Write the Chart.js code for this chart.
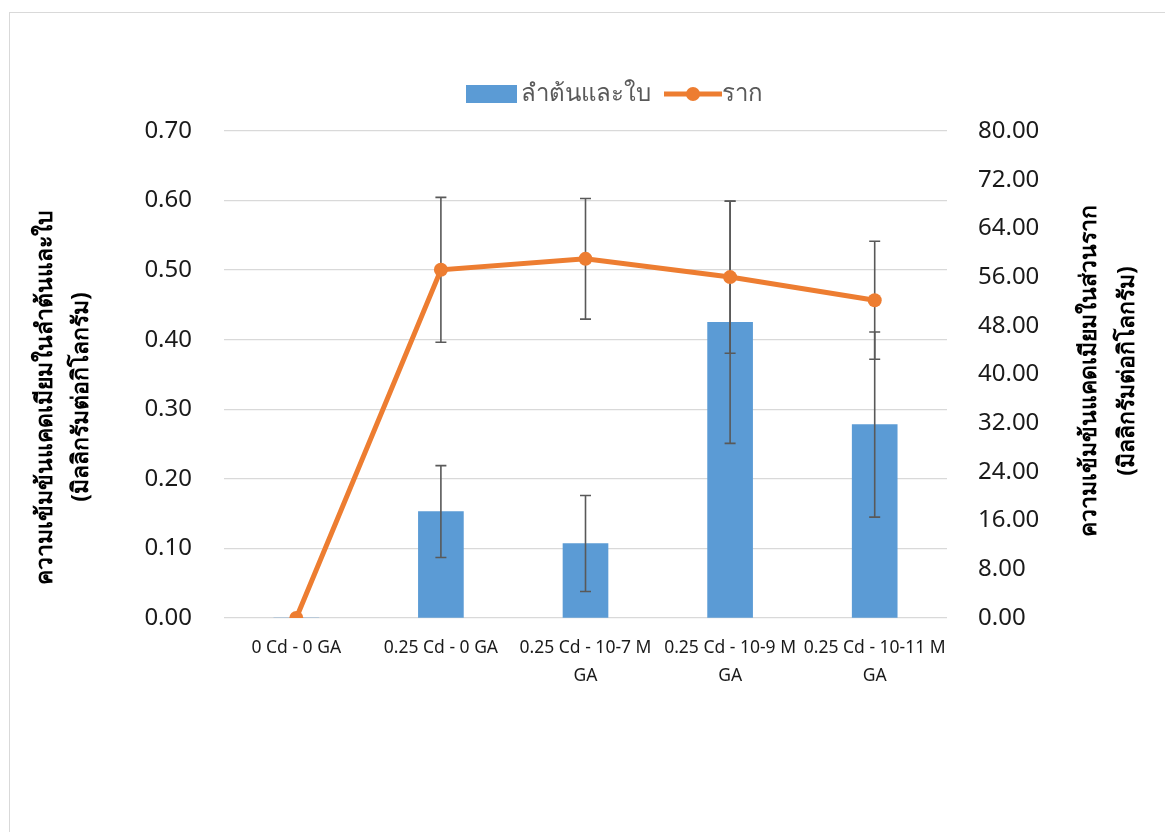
<!DOCTYPE html>
<html lang="th">
<head>
<meta charset="UTF-8">
<title>Cadmium chart</title>
<style>
    html, body {
        margin: 0;
        padding: 0;
        background: #fff;
        overflow: hidden;
    }
    .frame {
        position: absolute;
        left: 9px;
        top: 12px;
        width: 1160px;
        height: 830px;
        border: 1px solid #d9d9d9;
    }
    canvas {
        display: block;
    }
</style>
</head>
<body>
<div class="frame">
    <canvas id="myChart" width="1160" height="830"></canvas>
</div>

<script src="https://cdn.jsdelivr.net/npm/chart.js"></script>
<script>
const categories = [
    '0 Cd - 0 GA',
    '0.25 Cd - 0 GA',
    ['0.25 Cd - 10-7 M', 'GA'],
    ['0.25 Cd - 10-9 M', 'GA'],
    ['0.25 Cd - 10-11 M', 'GA']
];
const stemLabel = 'ลำต้นและใบ';
const rootLabel = 'ราก';
const stemValues = [0, 0.153, 0.107, 0.425, 0.278];
const stemErrors = [0, 0.066, 0.069, 0.174, 0.133];
const rootValues = [0, 57.2, 59.0, 56.0, 52.2];
const rootErrors = [0, 11.9, 9.9, 12.5, 9.7];
const leftTitle = ['ความเข้มข้นแคดเมียมในลำต้นและใบ', '(มิลลิกรัมต่อกิโลกรัม)'];
const rightTitle = ['ความเข้มข้นแคดเมียมในส่วนราก', '(มิลลิกรัมต่อกิโลกรัม)'];

const blue = '#5b9bd5';
const orange = '#ed7d31';
const errColor = '#595959';
const font = "'Noto Sans', 'DejaVu Sans', sans-serif";

// error bars: drawn just before the line so they sit over the bars but under the line
const errorBars = {
    id: 'errorBars',
    beforeDatasetDraw(chart, args) {
        if (args.index !== 1) return;
        const ctx = chart.ctx;
        const sets = [
            { meta: chart.getDatasetMeta(0), scale: chart.scales.y, vals: stemValues, errs: stemErrors },
            { meta: chart.getDatasetMeta(1), scale: chart.scales.y1, vals: rootValues, errs: rootErrors }
        ];
        ctx.save();
        ctx.strokeStyle = errColor;
        ctx.lineWidth = 1.6;
        sets.forEach(s => {
            s.meta.data.forEach((el, i) => {
                if (!s.errs[i]) return;
                const x = el.x;
                const top = s.scale.getPixelForValue(s.vals[i] + s.errs[i]);
                const bot = s.scale.getPixelForValue(s.vals[i] - s.errs[i]);
                ctx.beginPath();
                ctx.moveTo(x, top); ctx.lineTo(x, bot);
                ctx.moveTo(x - 5.5, top); ctx.lineTo(x + 5.5, top);
                ctx.moveTo(x - 5.5, bot); ctx.lineTo(x + 5.5, bot);
                ctx.stroke();
            });
        });
        ctx.restore();
    }
};

// rotated axis titles (both read bottom-to-top like the original)
const axisTitles = {
    id: 'axisTitles',
    afterDraw(chart) {
        const ctx = chart.ctx;
        ctx.save();
        ctx.fillStyle = '#000';
        ctx.font = 'bold 23px ' + font;
        ctx.textAlign = 'center';
        ctx.textBaseline = 'middle';
        const drawTitle = (lines, xs, cy) => {
            lines.forEach((t, i) => {
                ctx.save();
                ctx.translate(xs[i], cy);
                ctx.rotate(-Math.PI / 2);
                ctx.fillText(t, 0, 0);
                ctx.restore();
            });
        };
        drawTitle(leftTitle, [35, 71], 384);
        drawTitle(rightTitle, [1079, 1117], 358);
        ctx.restore();
    }
};

// legend like the excel one: blue swatch, orange line with marker
const legendPlugin = {
    id: 'customLegend',
    afterDraw(chart) {
        const ctx = chart.ctx;
        const cy = 81;
        ctx.save();
        ctx.font = '24px ' + font;
        ctx.textBaseline = 'middle';
        ctx.fillStyle = blue;
        let x = 456;
        ctx.fillRect(x, cy - 9, 51, 18);
        x += 55;
        ctx.fillStyle = '#595959';
        ctx.fillText(stemLabel, x, cy);
        x += ctx.measureText(stemLabel).width + 13;
        ctx.strokeStyle = orange;
        ctx.lineWidth = 5;
        ctx.beginPath();
        ctx.moveTo(x, cy); ctx.lineTo(x + 58, cy);
        ctx.stroke();
        ctx.fillStyle = orange;
        ctx.beginPath();
        ctx.arc(x + 29, cy, 7, 0, Math.PI * 2);
        ctx.fill();
        x += 58;
        ctx.fillStyle = '#595959';
        ctx.fillText(rootLabel, x, cy);
        ctx.restore();
    }
};

const ctx = document.getElementById('myChart').getContext('2d');
new Chart(ctx, {
    type: 'bar',
    data: {
        labels: categories,
        datasets: [
            {
                type: 'bar',
                label: stemLabel,
                data: stemValues,
                backgroundColor: blue,
                borderWidth: 0,
                barThickness: 45,
                yAxisID: 'y',
                order: 1
            },
            {
                type: 'line',
                label: rootLabel,
                data: rootValues,
                borderColor: orange,
                backgroundColor: orange,
                borderWidth: 5,
                pointRadius: 7,
                pointBorderWidth: 0,
                pointBackgroundColor: orange,
                tension: 0,
                yAxisID: 'y1',
                order: 0
            }
        ]
    },
    options: {
        responsive: false,
        animation: false,
        layout: {
            padding: { top: 118, left: 0, right: 0, bottom: 0 }
        },
        plugins: {
            legend: { display: false },
            tooltip: { enabled: false }
        },
        scales: {
            x: {
                offset: true,
                grid: { display: false, drawTicks: false },
                border: { display: false },
                ticks: {
                    color: '#1a1a1a',
                    padding: 16,
                    maxRotation: 0,
                    autoSkip: false,
                    font: { family: font, size: 17.5, lineHeight: 1.6 }
                },
                afterFit(scale) { scale.height = 225; }
            },
            y: {
                position: 'left',
                min: 0,
                max: 0.7,
                grid: { color: '#d9d9d9', lineWidth: 1.3, drawTicks: false },
                border: { display: false },
                ticks: {
                    stepSize: 0.1,
                    color: '#1a1a1a',
                    padding: 32,
                    font: { family: font, size: 24 },
                    callback: v => v.toFixed(2)
                },
                afterFit(scale) { scale.width = 214; }
            },
            y1: {
                position: 'right',
                min: 0,
                max: 80,
                grid: { display: false, drawTicks: false },
                border: { display: false },
                ticks: {
                    stepSize: 8,
                    color: '#1a1a1a',
                    padding: 31,
                    font: { family: font, size: 24 },
                    callback: v => v.toFixed(2)
                },
                afterFit(scale) { scale.width = 223; }
            }
        }
    },
    plugins: [errorBars, axisTitles, legendPlugin]
});
</script>
</body>
</html>
